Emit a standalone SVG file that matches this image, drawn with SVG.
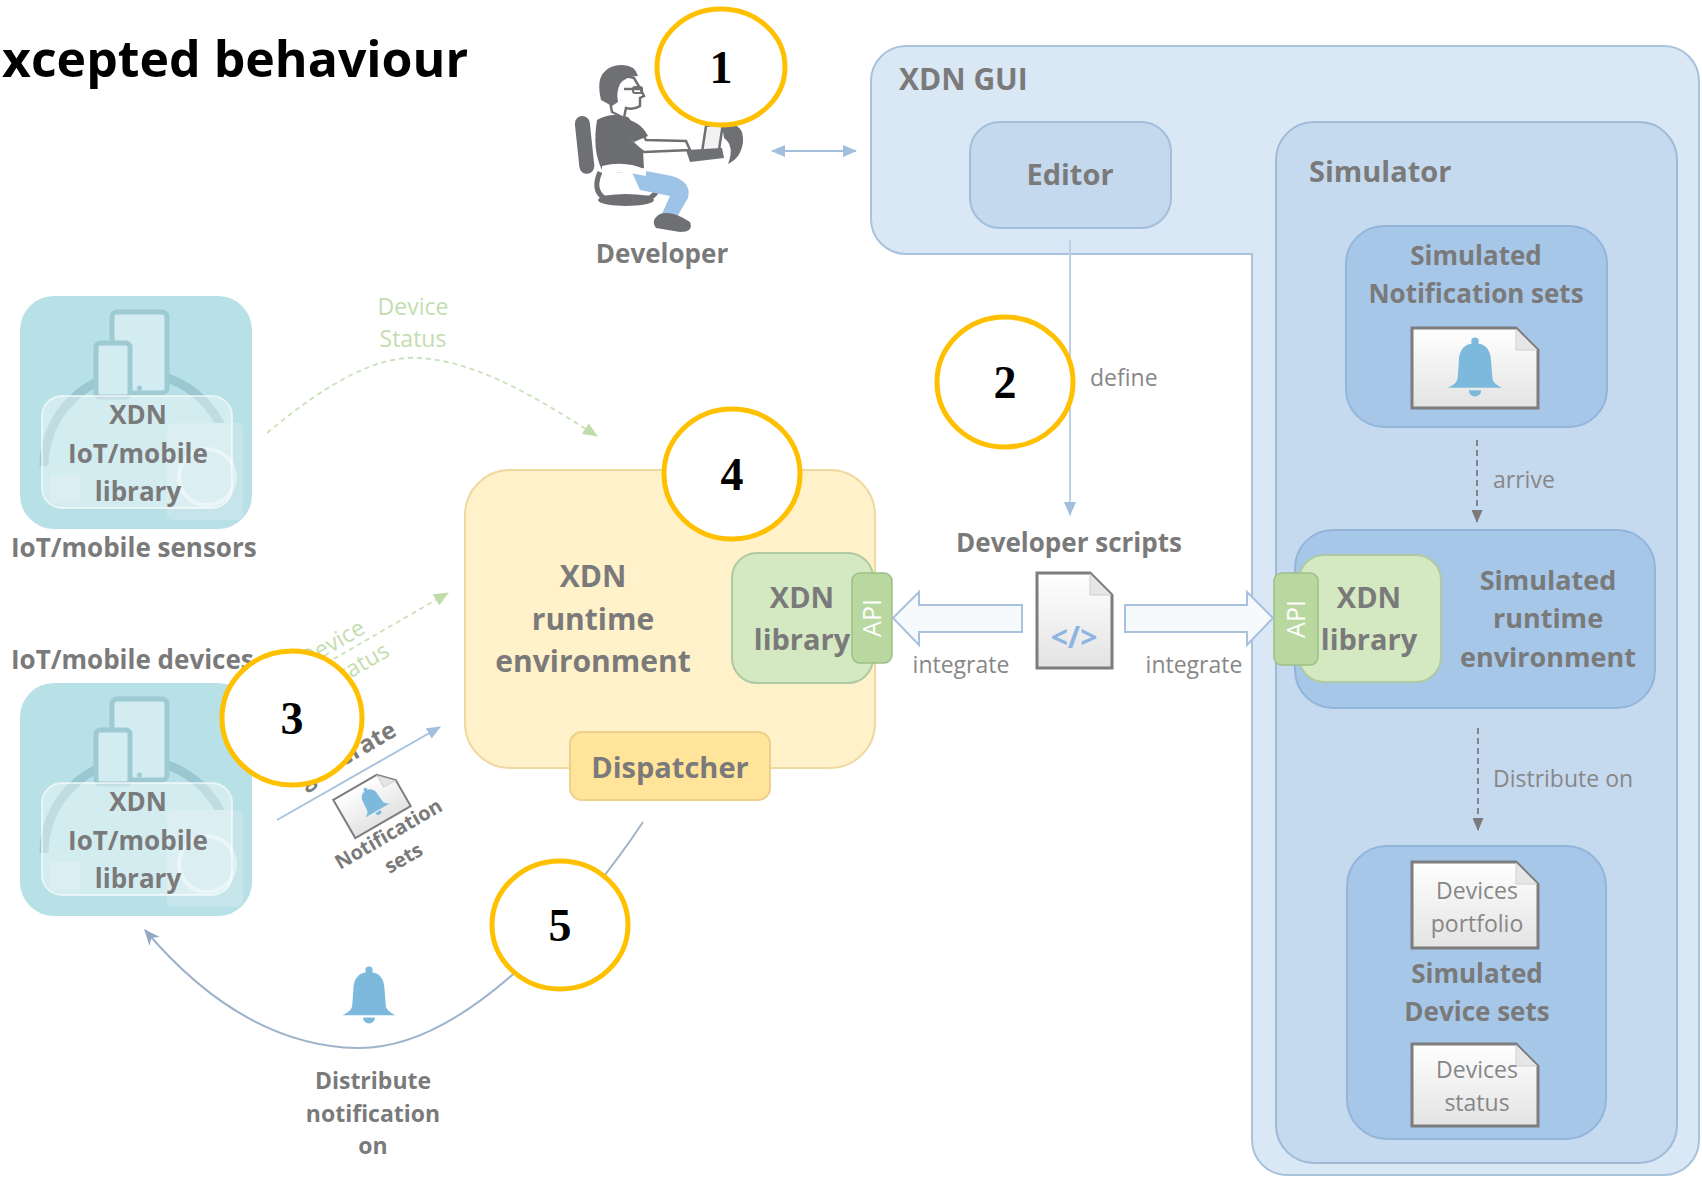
<svg xmlns="http://www.w3.org/2000/svg" width="1702" height="1177" viewBox="0 0 1702 1177">
<defs>
<style>
text { font-family: "Open Sans", "Noto Sans", "DejaVu Sans", sans-serif; }
.t { font-weight: 700; fill: #7a7a7a; }
.l { font-weight: 400; fill: #878787; font-size: 23px; }
.g { font-weight: 400; fill: #C3DDB0; font-size: 23px; }
.m { text-anchor: middle; }
.num { font-family: "Liberation Serif", "Times New Roman", serif; font-weight: 700; font-size: 46px; fill: #000; text-anchor: middle; }
.ring { fill: #fff; stroke: #FFC000; stroke-width: 5; }
.paper { fill: url(#paper); stroke: #7d7d7d; stroke-width: 3; }
.fold { fill: #e6e6e6; stroke: #cfcfcf; stroke-width: 1; }
.bell { fill: #7DB9DC; }
.api { fill: #B9D89F; stroke: #9DBE86; stroke-width: 1.5; }
.apitxt { font-weight: 400; fill: #ffffff; font-size: 25px; text-anchor: middle; }
.lib { fill: #D4E8C2; stroke: #AFC9A3; stroke-width: 2; }
.sim { fill: #A6C7E8; stroke: #93B5DA; stroke-width: 2; }
.blk { fill: #F7FAFD; stroke: #A8C2DD; stroke-width: 2; }
.dk { fill: #6F7073; }
</style>
<linearGradient id="paper" x1="0" y1="0" x2="0" y2="1">
  <stop offset="0" stop-color="#ffffff"/>
  <stop offset="1" stop-color="#e3e3e3"/>
</linearGradient>
<marker id="aBlue" viewBox="0 0 14 12" markerWidth="14" markerHeight="12" refX="13" refY="6" markerUnits="userSpaceOnUse" orient="auto-start-reverse">
  <path d="M0 0 L14 6 L0 12 Z" fill="#A3BFDD"/>
</marker>
<marker id="aGreen" viewBox="0 0 14 12" markerWidth="15" markerHeight="13" refX="13" refY="6" markerUnits="userSpaceOnUse" orient="auto">
  <path d="M0 0 L14 6 L0 12 Z" fill="#BFDCAA"/>
</marker>
<marker id="aGray" viewBox="0 0 14 12" markerWidth="13" markerHeight="11" refX="13" refY="6" markerUnits="userSpaceOnUse" orient="auto">
  <path d="M0 0 L14 6 L0 12 Z" fill="#7a7a7a"/>
</marker>
<marker id="aCurve" viewBox="0 0 14 12" markerWidth="16" markerHeight="14" refX="13" refY="6" markerUnits="userSpaceOnUse" orient="auto">
  <path d="M0 0 L14 6 L0 12 L4 6 Z" fill="#93AAC6"/>
</marker>
<!-- bell glyph, 100x100 box -->
<g id="bellShape" class="bell">
  <circle cx="50" cy="7" r="6"/>
  <path d="M50 10 C30 10 24 25 24 40 L22 66 C21 74 14 78 6 82 L94 82 C86 78 79 74 78 66 L76 40 C76 25 70 10 50 10 Z"/>
  <path d="M40 86 A10 10 0 0 0 60 86 Z"/>
</g>
<!-- device cluster artwork, 232x233 box -->
<g id="iotArt">
  <rect x="0" y="0" width="232" height="233" rx="34" fill="#B8E0E7"/>
  <path d="M24 170 A93 93 0 0 1 210 170" fill="none" stroke="#99C7D2" stroke-width="9"/>
  <rect x="92" y="16" width="55" height="81" rx="5" fill="#D3ECF1" stroke="#9ECAD4" stroke-width="5"/>
  <circle cx="119.5" cy="92" r="2.5" fill="#9ECAD4"/>
  <rect x="76" y="47" width="34" height="54" rx="4" fill="#D3ECF1" stroke="#9ECAD4" stroke-width="5"/>
  <rect x="147" y="127" width="76" height="97" rx="6" fill="#C6E5EB"/>
  <circle cx="187" cy="181" r="28" fill="none" stroke="#DDF0F3" stroke-width="4"/>
  <rect x="30" y="179" width="30" height="28" fill="#C6E5EB"/>
  <rect x="22" y="100" width="190" height="112" rx="20" fill="#ffffff" fill-opacity="0.38" stroke="#ffffff" stroke-opacity="0.6" stroke-width="2"/>
</g>
</defs>

<rect width="1702" height="1177" fill="#ffffff"/>

<text x="2" y="77" font-size="50" font-weight="700" fill="#000">xcepted behaviour</text>

<!-- XDN GUI container with editor and simulator -->
<g id="xdn-gui">
  <path d="M906 46 H1664 A35 35 0 0 1 1699 81 V1140 A35 35 0 0 1 1664 1175 H1287 A35 35 0 0 1 1252 1140 V254 H906 A35 35 0 0 1 871 219 V81 A35 35 0 0 1 906 46 Z" fill="#DAE7F4" stroke="#A9C3DD" stroke-width="2"/>
  <text class="t" x="899" y="90" font-size="30">XDN GUI</text>
</g>
<g id="editor">
  <rect x="970" y="122" width="201" height="106" rx="30" fill="#C5D9EE" stroke="#A3BEDA" stroke-width="2"/>
  <text class="t m" x="1070" y="185" font-size="29">Editor</text>
</g>
<g id="simulator">
  <rect x="1276" y="122" width="401" height="1041" rx="38" fill="#C6DAEF" stroke="#9FBAD7" stroke-width="2"/>
  <text class="t" x="1309" y="182" font-size="29">Simulator</text>
</g>
<g id="sim-notification-sets">
  <rect class="sim" x="1346" y="226" width="261" height="201" rx="38"/>
  <text class="t m" x="1476" y="265" font-size="26">Simulated</text>
  <text class="t m" x="1476" y="303" font-size="26">Notification sets</text>
  <path class="paper" d="M1412 328 H1516 L1538 350 V408 H1412 Z"/>
  <path class="fold" d="M1516 329 V350 H1537 Z"/>
  <use href="#bellShape" transform="translate(1444 337) scale(0.62)"/>
</g>
<g id="sim-runtime">
  <rect class="sim" x="1295" y="530" width="360" height="178" rx="38"/>
  <rect class="lib" x="1299" y="555" width="142" height="127" rx="25"/>
  <rect class="api" x="1274" y="573" width="44" height="92" rx="8"/>
  <text class="apitxt" transform="translate(1296 619) rotate(-90)" y="9">API</text>
  <text class="t m" x="1369" y="608" font-size="29">XDN</text>
  <text class="t m" x="1369" y="650" font-size="29">library</text>
  <text class="t m" x="1548" y="590" font-size="27">Simulated</text>
  <text class="t m" x="1548" y="628" font-size="27">runtime</text>
  <text class="t m" x="1548" y="667" font-size="27">environment</text>
</g>
<g id="sim-device-sets">
  <rect class="sim" x="1347" y="846" width="259" height="293" rx="40"/>
  <path class="paper" d="M1412 862 H1516 L1538 884 V948 H1412 Z"/>
  <path class="fold" d="M1516 863 V884 H1537 Z"/>
  <text class="l m" x="1477" y="899">Devices</text>
  <text class="l m" x="1477" y="932">portfolio</text>
  <text class="t m" x="1477" y="983" font-size="26">Simulated</text>
  <text class="t m" x="1477" y="1021" font-size="26">Device sets</text>
  <path class="paper" d="M1412 1044 H1516 L1538 1066 V1126 H1412 Z"/>
  <path class="fold" d="M1516 1045 V1066 H1537 Z"/>
  <text class="l m" x="1477" y="1078">Devices</text>
  <text class="l m" x="1477" y="1111">status</text>
</g>

<!-- developer at the laptop -->
<g id="developer">
  <rect class="dk" x="577" y="116" width="15" height="58" rx="7.5" transform="rotate(-6 584 144)"/>
  <path d="M600 172 Q592 190 604 198 L650 198 Q660 192 656 182" fill="none" stroke="#6F7073" stroke-width="5"/>
  <ellipse class="dk" cx="626" cy="200" rx="28" ry="6"/>
  <path d="M597 120 Q611 112 628 117 L642 134 L644 168 Q620 176 602 170 Q592 150 597 120 Z" fill="#6B6D71"/>
  <path d="M630 168 L672 176 Q692 182 688 198 L674 222 L661 216 L670 196 L640 190 Z" fill="#9DC3E6"/>
  <path class="dk" d="M660 214 Q672 210 690 222 Q694 232 680 232 L656 228 Q650 220 660 214 Z"/>
  <path d="M602 166 Q626 160 646 170 L646 176 Q624 170 602 174 Z" fill="#ffffff"/>
  <path d="M628 122 Q640 128 646 140 L686 141 L690 150 L644 152 Q634 146 628 136 Z" fill="#ffffff" stroke="#6F7073" stroke-width="2.5"/>
  <path d="M620 118 Q640 120 648 136 L634 142 Q626 132 616 128 Z" fill="#6B6D71"/>
  <path d="M612 112 Q608 96 612 84 Q620 74 634 78 L640 88 L644 96 L640 98 L640 106 Q634 110 626 108 L624 118 Z" fill="#ffffff" stroke="#6F7073" stroke-width="2.5"/>
  <path class="dk" d="M601 100 Q594 72 614 66 Q634 62 638 76 Q626 76 620 84 Q616 92 618 102 L612 106 Z"/>
  <path d="M624 89 H643" stroke="#6F7073" stroke-width="2.5"/>
  <rect x="633" y="87" width="9" height="6" rx="2" fill="none" stroke="#6F7073" stroke-width="2"/>
  <path d="M706 126 L723 123 L719 150 L702 152 Z" fill="#F2F2F2" stroke="#6F7073" stroke-width="2.5"/>
  <path class="dk" d="M686 150 L722 148 L724 158 L690 162 Z"/>
  <path class="dk" d="M722 126 Q744 120 743 142 Q741 158 728 164 Q735 146 724 138 Z"/>
  <text class="t m" x="662" y="263" font-size="26">Developer</text>
</g>

<!-- IoT/mobile sensors -->
<g id="iot-sensors">
  <use href="#iotArt" x="20" y="296"/>
  <text class="t m" x="138" y="424" font-size="26">XDN</text>
  <text class="t m" x="138" y="463" font-size="26">IoT/mobile</text>
  <text class="t m" x="138" y="501" font-size="26">library</text>
  <text class="t" x="11" y="557" font-size="26">IoT/mobile sensors</text>
</g>

<!-- IoT/mobile devices -->
<g id="iot-devices">
  <text class="t" x="11" y="669" font-size="26">IoT/mobile devices</text>
  <use href="#iotArt" x="20" y="683"/>
  <text class="t m" x="138" y="811" font-size="26">XDN</text>
  <text class="t m" x="138" y="850" font-size="26">IoT/mobile</text>
  <text class="t m" x="138" y="888" font-size="26">library</text>
</g>

<!-- XDN runtime environment -->
<g id="runtime">
  <rect x="465" y="470" width="410" height="298" rx="45" fill="#FFF1C9" stroke="#EFD9A0" stroke-width="2"/>
  <text class="t m" x="593" y="587" font-size="30">XDN</text>
  <text class="t m" x="593" y="630" font-size="30">runtime</text>
  <text class="t m" x="593" y="672" font-size="30">environment</text>
  <rect class="lib" x="732" y="553" width="141" height="130" rx="25"/>
  <text class="t m" x="802" y="608" font-size="29">XDN</text>
  <text class="t m" x="802" y="650" font-size="29">library</text>
  <rect class="api" x="852" y="573" width="40" height="90" rx="8"/>
  <text class="apitxt" transform="translate(872 618) rotate(-90)" y="9">API</text>
</g>
<g id="dispatcher">
  <rect x="570" y="732" width="200" height="68" rx="12" fill="#FFE49A" stroke="#EDD08C" stroke-width="2"/>
  <text class="t m" x="670" y="778" font-size="29">Dispatcher</text>
</g>

<!-- developer scripts -->
<g id="developer-scripts">
  <text class="t m" x="1069" y="552" font-size="26">Developer scripts</text>
  <path class="paper" d="M1037 573 H1090 L1112 595 V668 H1037 Z"/>
  <path class="fold" d="M1090 574 V595 H1111 Z"/>
  <text x="1074" y="648" font-size="30" font-weight="700" fill="#8DB4E2" text-anchor="middle">&lt;/&gt;</text>
</g>

<!-- connectors -->
<g id="connectors" fill="none">
  <line x1="772" y1="151" x2="856" y2="151" stroke="#A3BFDD" stroke-width="2" marker-start="url(#aBlue)" marker-end="url(#aBlue)"/>
  <line x1="1070" y1="240" x2="1070" y2="515" stroke="#BCD0E6" stroke-width="2" marker-end="url(#aBlue)"/>
  <text class="l" x="1090" y="386">define</text>
  <line x1="1477" y1="440" x2="1477" y2="522" stroke="#7a7a7a" stroke-width="1.8" stroke-dasharray="6 4" marker-end="url(#aGray)"/>
  <text class="l" x="1493" y="488">arrive</text>
  <line x1="1478" y1="728" x2="1478" y2="830" stroke="#7a7a7a" stroke-width="1.8" stroke-dasharray="6 4" marker-end="url(#aGray)"/>
  <text class="l" x="1493" y="787">Distribute on</text>
  <polygon class="blk" points="893,618 919,592 919,605 1022,605 1022,632 919,632 919,645"/>
  <polygon class="blk" points="1273,618 1247,592 1247,605 1125,605 1125,632 1247,632 1247,645"/>
  <text class="l m" x="961" y="673">integrate</text>
  <text class="l m" x="1194" y="673">integrate</text>
  <path d="M267 433 C330 380 380 355 420 358 C480 362 540 400 597 436" stroke="#C9E1B8" stroke-width="1.8" stroke-dasharray="5 4" marker-end="url(#aGreen)"/>
  <text class="g m" x="413" y="315">Device</text>
  <text class="g m" x="413" y="347">Status</text>
  <line x1="318" y1="668" x2="448" y2="593" stroke="#C9E1B8" stroke-width="1.8" stroke-dasharray="5 4" marker-end="url(#aGreen)"/>
  <text class="g m" transform="rotate(-30 336 650)" x="336" y="650">Device</text>
  <text class="g m" transform="rotate(-30 362 672)" x="362" y="672">Status</text>
  <line x1="277" y1="820" x2="440" y2="727" stroke="#A9C3DD" stroke-width="2" marker-end="url(#aBlue)"/>
  <text class="t" text-anchor="end" font-size="24" transform="rotate(-30 398 735)" x="398" y="735">generate</text>
  <g transform="translate(372 803) rotate(-30)">
    <path d="M-32 -22 H18 L32 -8 V22 H-32 Z" fill="url(#paper)" stroke="#7d7d7d" stroke-width="2"/>
    <path class="fold" d="M18 -21 V-8 H31 Z"/>
    <use href="#bellShape" transform="translate(-15 -17) scale(0.32)"/>
  </g>
  <text class="t m" font-size="20" transform="rotate(-30 392 840)" x="392" y="840">Notification</text>
  <text class="t m" font-size="20" transform="rotate(-30 407 864)" x="407" y="864">sets</text>
  <path d="M643 822 C590 902 470 1050 357 1048 C270 1046 200 995 145 930" stroke="#9FB3CB" stroke-width="2" marker-end="url(#aCurve)"/>
  <use href="#bellShape" transform="translate(339 966) scale(0.6)"/>
  <text class="t m" x="373" y="1089" font-size="23">Distribute</text>
  <text class="t m" x="373" y="1122" font-size="23">notification</text>
  <text class="t m" x="373" y="1154" font-size="23">on</text>
</g>

<!-- numbered step markers -->
<g id="step-1"><ellipse class="ring" cx="721" cy="67" rx="64" ry="58"/><text class="num" x="721" y="83">1</text></g>
<g id="step-2"><ellipse class="ring" cx="1005" cy="382" rx="68" ry="65"/><text class="num" x="1005" y="398">2</text></g>
<g id="step-3"><ellipse class="ring" cx="292" cy="718" rx="70" ry="67"/><text class="num" x="292" y="734">3</text></g>
<g id="step-4"><ellipse class="ring" cx="732" cy="474" rx="68" ry="65"/><text class="num" x="732" y="490">4</text></g>
<g id="step-5"><ellipse class="ring" cx="560" cy="925" rx="68" ry="64"/><text class="num" x="560" y="941">5</text></g>
</svg>
